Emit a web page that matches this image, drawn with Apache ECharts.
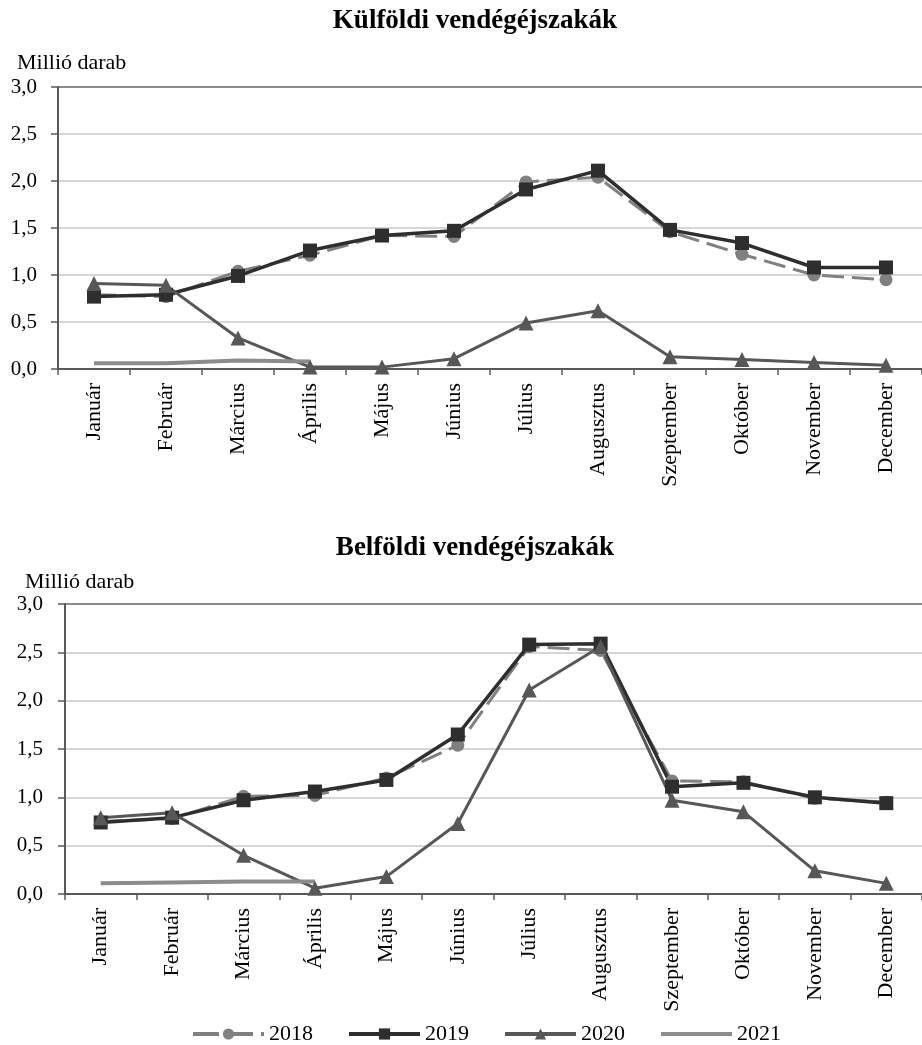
<!DOCTYPE html>
<html>
<head>
<meta charset="utf-8">
<script src="https://cdn.jsdelivr.net/npm/echarts@6/dist/echarts.min.js"></script>
<style>
html,body{margin:0;padding:0;background:#fff;overflow:hidden;}
#chart{width:922px;height:1045px;}
</style>
</head>
<body>
<div id="chart"></div>
<script>
const months = ['Január','Február','Március','Április','Május','Június','Július','Augusztus','Szeptember','Október','November','December'];
const years = ['2018','2019','2020','2021'];
const titleTop = 'Külföldi vendégéjszakák';
const titleBottom = 'Belföldi vendégéjszakák';
const unitLabel = 'Millió darab';

// Külföldi (foreign) guest nights, million
const k2018 = [0.79, 0.77, 1.04, 1.21, 1.42, 1.41, 1.99, 2.04, 1.46, 1.22, 1.00, 0.95];
const k2019 = [0.77, 0.79, 0.99, 1.26, 1.42, 1.47, 1.91, 2.11, 1.48, 1.34, 1.08, 1.08];
const k2020 = [0.91, 0.89, 0.33, 0.02, 0.02, 0.11, 0.49, 0.62, 0.13, 0.10, 0.07, 0.04];
const k2021 = [0.06, 0.06, 0.09, 0.08, null, null, null, null, null, null, null, null];

// Belföldi (domestic) guest nights, million
const b2018 = [0.75, 0.78, 1.01, 1.02, 1.20, 1.54, 2.56, 2.52, 1.17, 1.16, 0.99, 0.95];
const b2019 = [0.74, 0.79, 0.97, 1.06, 1.18, 1.65, 2.58, 2.59, 1.11, 1.15, 1.00, 0.94];
const b2020 = [0.79, 0.84, 0.40, 0.06, 0.18, 0.73, 2.11, 2.56, 0.97, 0.85, 0.24, 0.11];
const b2021 = [0.11, 0.12, 0.13, 0.13, null, null, null, null, null, null, null, null];

const FONT = '"Liberation Serif", "DejaVu Serif", serif';
const C18 = '#808080', C19 = '#2e2e2e', C20 = '#575757', C21 = '#8c8c8c';

function xAxis(gi){
  return {
    type:'category', gridIndex: gi, data: months, boundaryGap: true,
    axisLine:{show:true, lineStyle:{color:'#595959', width:2}},
    axisTick:{show:true, interval:0, length:6, lineStyle:{color:'#595959', width:1.5}},
    axisLabel:{interval:0, rotate:90, margin:14, color:'#000', fontFamily:FONT, fontSize:22},
    splitLine:{show:false}
  };
}
function yAxis(gi, margin){
  return {
    type:'value', gridIndex: gi, min:0, max:3, interval:0.5,
    axisLine:{show:true, lineStyle:{color:'#595959', width:2}},
    axisTick:{show:true, length:7, lineStyle:{color:'#595959', width:1.5}},
    axisLabel:{margin:margin, color:'#000', fontFamily:FONT, fontSize:21,
      formatter: v => v.toFixed(1).replace('.', ',')},
    splitLine:{show:true, lineStyle:{color:['#c8c8c8','#c8c8c8','#c8c8c8','#c8c8c8','#c8c8c8','#c8c8c8','#666666'], width:1.5}}
  };
}
function series(gi, d18, d19, d20, d21){
  return [
    {name:'2018', type:'line', xAxisIndex:gi, yAxisIndex:gi, data:d18, symbol:'circle', symbolSize:13,
      itemStyle:{color:C18}, lineStyle:{color:C18, width:3, type:[22,8]}},
    {name:'2019', type:'line', xAxisIndex:gi, yAxisIndex:gi, data:d19, symbol:'rect', symbolSize:14,
      itemStyle:{color:C19}, lineStyle:{color:C19, width:3.5}},
    {name:'2020', type:'line', xAxisIndex:gi, yAxisIndex:gi, data:d20, symbol:'triangle', symbolSize:15,
      itemStyle:{color:C20}, lineStyle:{color:C20, width:3}},
    {name:'2021', type:'line', xAxisIndex:gi, yAxisIndex:gi, data:d21, symbol:'none', showSymbol:false,
      itemStyle:{color:C21}, lineStyle:{color:C21, width:4}}
  ];
}

const chart = echarts.init(document.getElementById('chart'), null, {renderer:'canvas'});
chart.setOption({
  animation:false,
  backgroundColor:'#fff',
  graphic:[
    {type:'text', x:475, y:21, style:{text:titleTop, font:'bold 27px ' + FONT, fill:'#000', align:'center', verticalAlign:'middle'}},
    {type:'text', x:17, y:63, style:{text:unitLabel, font:'22px ' + FONT, fill:'#000', align:'left', verticalAlign:'middle'}},
    {type:'text', x:475, y:548, style:{text:titleBottom, font:'bold 27px ' + FONT, fill:'#000', align:'center', verticalAlign:'middle'}},
    {type:'text', x:25, y:582, style:{text:unitLabel, font:'22px ' + FONT, fill:'#000', align:'left', verticalAlign:'middle'}}
  ],
  grid:[
    {left:58, right:-11, top:87, height:282, containLabel:false},
    {left:65, right:-2, top:604, height:290, containLabel:false}
  ],
  xAxis:[xAxis(0), xAxis(1)],
  yAxis:[yAxis(0, 21), yAxis(1, 22)],
  legend:{
    data: [
      {name:'2018', lineStyle:{width:4, type:[26,8]}},
      {name:'2019', lineStyle:{width:4}},
      {name:'2020', lineStyle:{width:4}},
      {name:'2021', itemStyle:{opacity:0}, lineStyle:{width:4}}
    ],
    left:186, top:1018, itemWidth:71, itemHeight:14, itemGap:34,
    textStyle:{fontFamily:FONT, fontSize:22, color:'#000'}
  },
  series:[].concat(series(0, k2018, k2019, k2020, k2021), series(1, b2018, b2019, b2020, b2021))
});
</script>
</body>
</html>
